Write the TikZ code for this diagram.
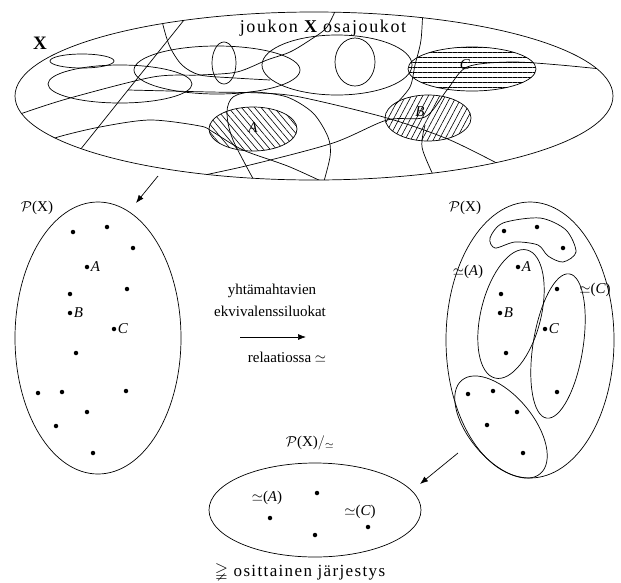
\documentclass[tikz,border=0pt]{standalone}
\usepackage{amssymb}
\usepackage{fontspec}
\setmainfont{Liberation Serif}
\usetikzlibrary{arrows.meta,positioning,patterns.meta,shapes.geometric}

\begin{document}
\begin{tikzpicture}[x=1pt,y=-1pt,line width=0.7pt,font=\fontsize{15}{17}\selectfont,
  dot/.style={circle,fill,inner sep=0pt,minimum size=4.5pt},
  lbl/.style={inner sep=1pt},
  wide/.style={font=\fontsize{17}{19}\selectfont\addfontfeatures{LetterSpace=8}},
  hatch/.style={pattern={Lines[angle=#1,distance=5pt,line width=0.6pt]}},
  >={Latex[length=8pt,width=6pt]}]
  \useasboundingbox (0,0) rectangle (621,582);
  % joukko X ja sen osajoukot
  \begin{scope}
    \clip (314,96) ellipse [x radius=299,y radius=84];
    \fill[hatch=0] (472,69) ellipse [x radius=64,y radius=22];
    \fill[hatch=62] (428,118) ellipse [x radius=43,y radius=23];
    \fill[hatch=-50] (253,129) ellipse [x radius=44,y radius=22];
    \draw (82,61) ellipse [x radius=32,y radius=7];
    \draw (120,84) ellipse [x radius=72,y radius=19];
    \draw (217,70) ellipse [x radius=83,y radius=24];
    \draw (224,63) ellipse [x radius=12,y radius=21];
    \draw (337,65) ellipse [x radius=75,y radius=30];
    \draw (355,62) ellipse [x radius=20,y radius=24];
    \draw (472,69) ellipse [x radius=64,y radius=22];
    \draw (428,118) ellipse [x radius=43,y radius=23];
    \draw (253,129) ellipse [x radius=44,y radius=22];
    \draw (196,5) -- (68,165);
    \draw plot[smooth] coordinates {(158,0) (163,25) (170,47) (182,65) (200,75) (235,78) (270,80)};
    \draw plot[smooth] coordinates {(0,122) (23,113) (70,98) (153,77) (200,75) (237,72) (267,60) (290,52) (310,40) (327,27) (340,0)};
    \draw plot[smooth] coordinates {(128,90) (170,91) (210,92) (260,93) (300,97) (387,118) (450,140) (510,170)};
    \draw plot[smooth] coordinates {(40,145) (58,137) (100,127) (150,120) (200,126) (213,132) (243,150) (290,167) (340,190)};
    \draw plot[smooth] coordinates {(262,195) (233,140) (227,112) (233,97) (253,92) (287,97) (313,113) (328,137) (330,157) (320,195)};
    \draw plot[smooth] coordinates {(190,178) (250,165) (333,143) (387,120) (425,117) (447,90) (467,67) (510,62) (560,65) (630,72)};
    \draw plot[smooth] coordinates {(425,125) (422,147) (433,175) (440,190)};
    \draw plot[smooth] coordinates {(423,5) (421,40) (415,65) (410,87) (395,105)};
  \end{scope}
  \draw (314,96) ellipse [x radius=299,y radius=84];
  \node[font=\fontsize{19}{21}\selectfont\bfseries] (setX) at (40,43) {X};
  \node[wide,font=\fontsize{18}{20}\selectfont\addfontfeatures{LetterSpace=9}] (title) at (323,28) {joukon {\bfseries X} osajoukot};
  \node[lbl] (lA) at (253,128) {\textit{A}};
  \node[lbl] (lB) at (420,112) {\textit{B}};
  \node[lbl] (lC) at (465,65) {\textit{C}};
  \coordinate (a1s) at (158,176);
  \coordinate (a1e) at (136,203);
  \draw[->] (a1s) -- (a1e);

  % potenssijoukko P(X)
  \draw (98,338) ellipse [x radius=83,y radius=136];
  \node (PXl) at (37,208) {$\mathcal{P}$(X)};
  \foreach \x/\y [count=\i] in {73/232,107/227,133/248,87/267,70/294,127/289,70/313,114/329,
    76/353,38/393,62/392,126/391,87/412,56/426,93/453}
    \node[dot] (l\i) at (\x,\y) {};
  \node[lbl,right=0pt of l4] (pA) {\textit{A}};
  \node[lbl,right=0pt of l7] (pB) {\textit{B}};
  \node[lbl,right=0pt of l8] (pC) {\textit{C}};

  \node (yht) at (272,291) {yhtämahtavien};
  \node (ekv) at (270,311) {ekvivalenssiluokat};
  \coordinate (m1) at (240,337);
  \coordinate (m2) at (306,337);
  \draw[->] (m1) -- (m2);
  \node (rel) at (287,357) {relaatiossa $\simeq$};

  % ekvivalenssiluokat
  \draw (530,340) ellipse [x radius=84,y radius=138];
  \node (PXr) at (465,208) {$\mathcal{P}$(X)};
  \draw plot[smooth cycle] coordinates {(490,238) (503,223) (540,218) (566,230) (576,252) (563,262) (548,256) (538,245) (515,242) (495,248)};
  \draw[rotate around={-14:(511,314)}] (511,314) ellipse [x radius=30,y radius=66];
  \draw[rotate around={-9:(558,346)}] (558,346) ellipse [x radius=25,y radius=73];
  \draw[rotate around={40:(501,427)}] (501,427) ellipse [x radius=32,y radius=61];
  \foreach \x/\y [count=\i] in {504/231,537/227,563/248,518/267,501/294,500/313,506/353,
    557/289,545/329,557/392,468/394,493/391,517/412,487/425,523/453}
    \node[dot] (r\i) at (\x,\y) {};
  \node[lbl,right=0pt of r4] (rA) {\textit{A}};
  \node[lbl,right=0pt of r6] (rB) {\textit{B}};
  \node[lbl,right=0pt of r9] (rC) {\textit{C}};
  \node (eqAr) at (468,272) {$\simeq$(\textit{A})};
  \node[anchor=west,inner sep=0pt] (eqCr) at (579,290) {$\simeq$(\textit{C})};
  \coordinate (a3s) at (458,453);
  \coordinate (a3e) at (420,484);
  \draw[->] (a3s) -- (a3e);

  % tekijajoukko
  \draw (315,510) ellipse [x radius=106,y radius=47];
  \node (PXq) at (310,443) {$\mathcal{P}$(X)$/_{\simeq}$};
  \foreach \x/\y [count=\i] in {317/493,270/518,315/535,368/527}
    \node[dot] (q\i) at (\x,\y) {};
  \node (eqAq) at (267,498) {$\simeq$(\textit{A})};
  \node (eqCq) at (360,512) {$\simeq$(\textit{C})};
  \node[wide] (order) at (300,572) {$\gneqq$ osittainen järjestys};
\end{tikzpicture}
\end{document}
